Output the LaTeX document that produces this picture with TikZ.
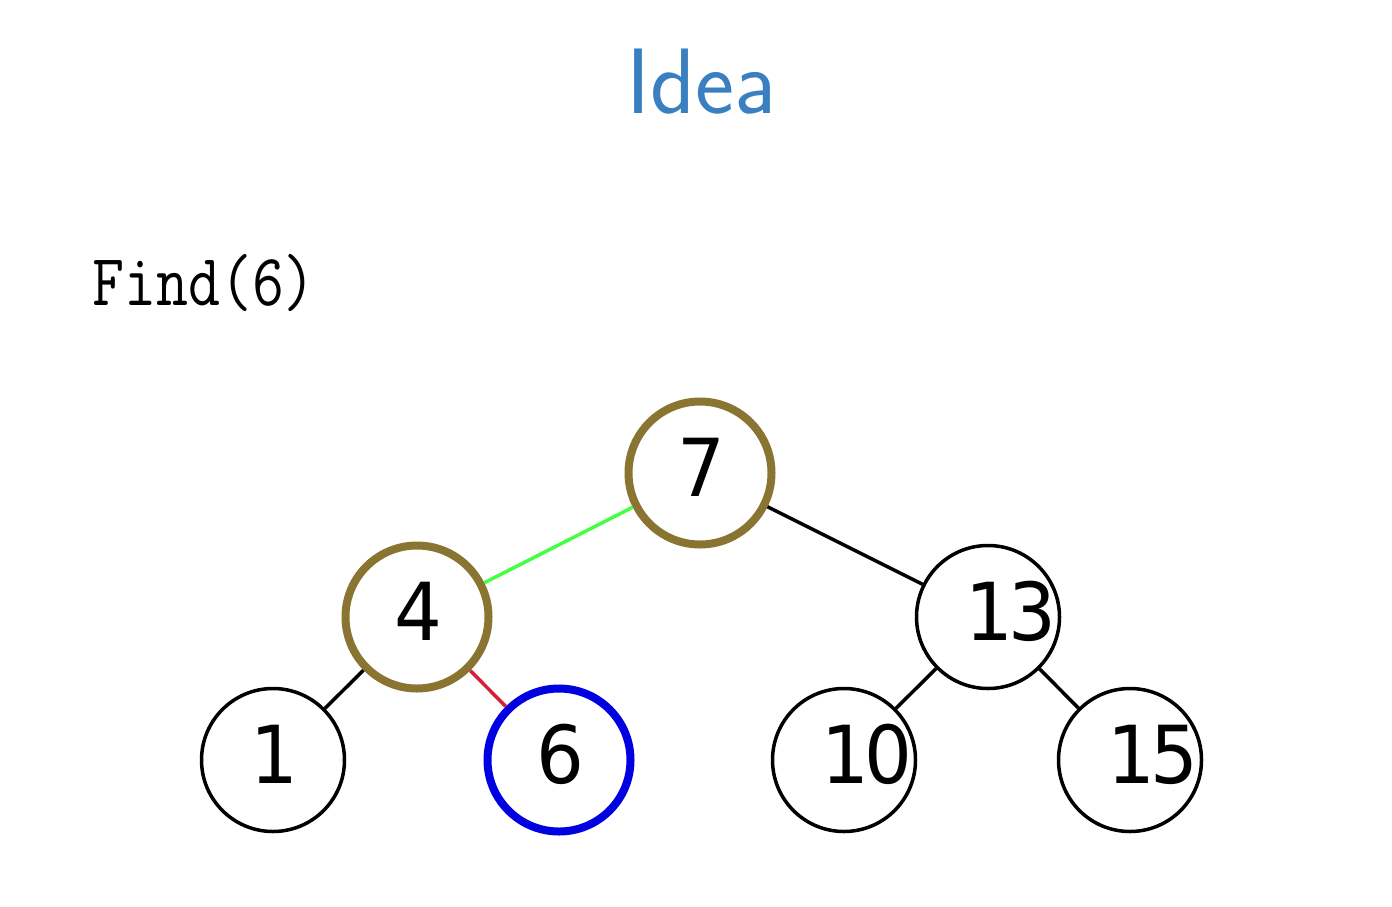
\documentclass[tikz,border=0pt]{standalone}
\usepackage{fontspec}
\usepackage{xcolor}
\usetikzlibrary{positioning}
\newfontfamily\digitfont[FakeStretch=0.94, LetterSpace=-6]{DejaVu Sans}
\definecolor{ideablue}{HTML}{3A80C0}
\definecolor{visitbrown}{HTML}{8A7432}
\definecolor{pathgreen}{HTML}{44FF44}
\definecolor{pathred}{HTML}{D42038}
\definecolor{foundblue}{HTML}{0000E0}

\begin{document}
\begin{tikzpicture}[x=1pt, y=-1pt,
    key/.style={circle, draw, line width=3.5pt, minimum size=143pt, inner sep=0pt,
                text width=46pt, text height=58pt, text depth=12pt, align=left,
                font=\digitfont\fontsize{80}{80}\selectfont},
    visited/.style={key, draw=visitbrown, line width=8pt},
    found/.style={key, draw=foundblue, line width=8pt},
    edge/.style={line width=3.5pt}
]
\useasboundingbox (0,0) rectangle (1392,906);

% title and call
\node[font=\sffamily\fontsize{93}{93}\selectfont, text=ideablue, anchor=base] (title) at (701,113) {Idea};
\node[font=\ttfamily\fontsize{64}{64}\selectfont, anchor=base west, inner sep=0pt] (call) at (92,305) {\scalebox{0.97}[1.15]{Find(6)}};

% tree
\node[visited] (n7)  at (700,473) {7};
\node[visited] (n4)  at (417,617) {4};
\node[key]     (n13) at (988,617) {13};
\node[key]     (n1)  at (273,760) {1};
\node[found]   (n6)  at (559,760) {6};
\node[key]     (n10) at (844,760) {10};
\node[key]     (n15) at (1130,760) {15};

\draw[edge, pathgreen] (n7) -- (n4);
\draw[edge] (n7) -- (n13);
\draw[edge] (n4) -- (n1);
\draw[edge, pathred] (n4) -- (n6);
\draw[edge] (n13) -- (n10);
\draw[edge] (n13) -- (n15);
\end{tikzpicture}
\end{document}
